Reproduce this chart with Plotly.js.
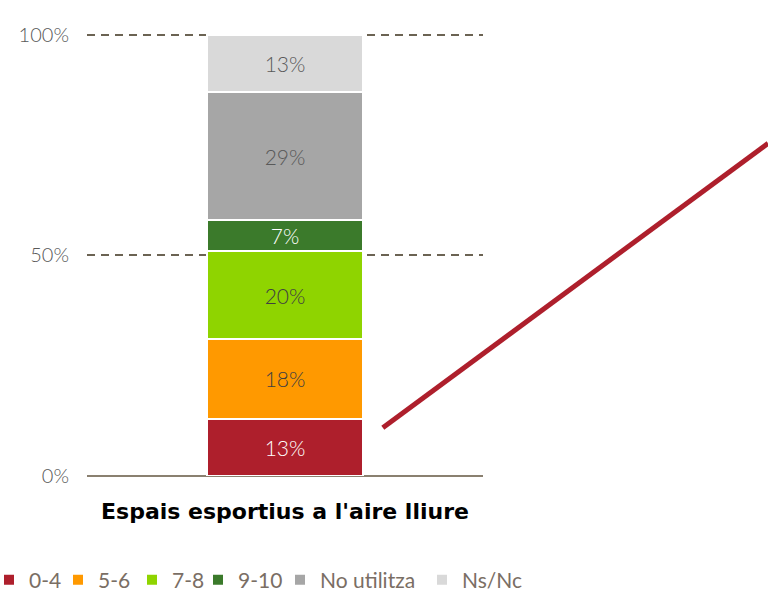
<!DOCTYPE html>
<html>
<head>
<meta charset="utf-8">
<script src="https://cdn.plot.ly/plotly-3.0.1.min.js"></script>
<style>
  html, body { margin: 0; padding: 0; background: #fff; }
  #chart { width: 768px; height: 593px; }
</style>
</head>
<body>
<div id="chart"></div>
<script>
const categoria = ["Espais esportius a l'aire lliure"];
const grups = ['0-4', '5-6', '7-8', '9-10', 'No utilitza', 'Ns/Nc'];
const valors = [13, 18, 20, 7, 29, 13];
const colors = ['#ae1f2c', '#ff9900', '#8fd400', '#3b7a2b', '#a6a6a6', '#d9d9d9'];
const colorsText = ['#ffffff', '#404040', '#404040', '#ffffff', '#595959', '#595959'];

// one legend per entry so the entries sit where the original puts them (pixels from the left)
const legendX = [-11, 58, 132, 198, 280, 422];

const traces = grups.map((g, i) => ({
    x: categoria,
    y: [valors[i]],
    name: g,
    type: 'bar',
    width: 0.395,
    legend: i === 0 ? 'legend' : 'legend' + (i + 1),
    text: [valors[i] + '%'],
    textposition: 'inside',
    insidetextanchor: 'middle',
    textfont: {family: 'Lato, "DejaVu Sans", sans-serif', size: 21, color: colorsText[i], weight: 300},
    marker: {color: colors[i], line: {color: '#ffffff', width: 2}},
    hoverinfo: 'skip'
}));

const margem = {t: 33, b: 117, l: 87, r: 285};
const amplePlot = 768 - margem.l - margem.r;
const altPlot = 593 - margem.t - margem.b;

const layout = {
    width: 768,
    height: 593,
    barmode: 'stack',
    showlegend: true,
    paper_bgcolor: '#ffffff',
    plot_bgcolor: '#ffffff',
    margin: Object.assign({autoexpand: false}, margem),
    font: {family: 'Lato, "DejaVu Sans", sans-serif'},
    xaxis: {
        showline: false,
        showgrid: false,
        tickfont: {family: '"DejaVu Sans", sans-serif', size: 22, color: '#000000', weight: 'bold'},
        ticks: 'outside',
        ticklen: 16,
        tickcolor: 'rgba(0,0,0,0)'
    },
    yaxis: {
        range: [0, 100.4],
        tickvals: [0, 50, 100],
        ticktext: ['0%', '50%', '100%'],
        tickfont: {size: 20, color: '#595959', weight: 300},
        ticks: 'outside',
        ticklen: 13,
        tickcolor: 'rgba(0,0,0,0)',
        showgrid: true,
        gridcolor: '#6b6353',
        gridwidth: 2,
        griddash: '8px,6px',
        zeroline: true,
        zerolinecolor: '#8a8070',
        zerolinewidth: 2,
        fixedrange: true
    },
    shapes: [{
        type: 'line',
        xref: 'paper',
        yref: 'paper',
        x0: 0.747, y0: 0.109,
        x1: 1.72, y1: 0.751,
        line: {color: '#ae1f2c', width: 5}
    }]
};

legendX.forEach((lx, i) => {
    layout[i === 0 ? 'legend' : 'legend' + (i + 1)] = {
        orientation: 'h',
        xref: 'paper',
        yref: 'paper',
        x: (lx - margem.l) / amplePlot,
        xanchor: 'left',
        y: (593 - margem.b - 580) / altPlot,
        yanchor: 'middle',
        bgcolor: 'rgba(0,0,0,0)',
        font: {size: 21, color: '#7a6e64'},
        itemwidth: 30
    };
});

Plotly.newPlot('chart', traces, layout, {displayModeBar: false, staticPlot: true});
</script>
</body>
</html>
